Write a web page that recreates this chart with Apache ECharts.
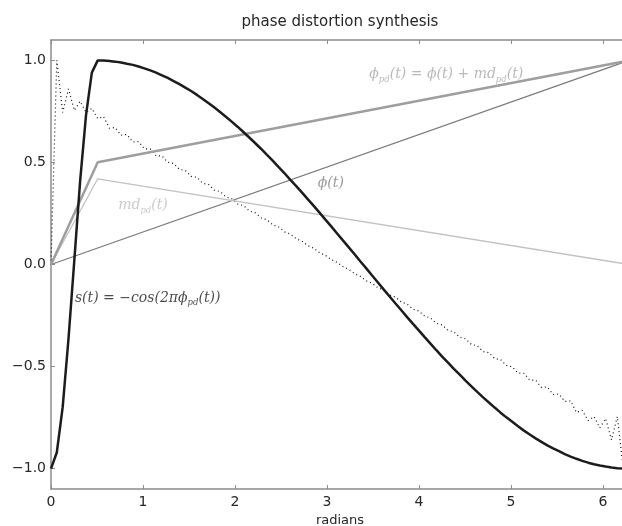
<!DOCTYPE html>
<html>
<head>
<meta charset="utf-8">
<script src="https://cdn.jsdelivr.net/npm/echarts@6/dist/echarts.min.js"></script>
<style>html,body{margin:0;padding:0;background:#fff;overflow:hidden}#c{width:630px;height:526px}</style>
</head>
<body>
<div id="c"></div>
<script>
// sample times (radians)
const tSamples = [0,0.063,0.127,0.190,0.254,0.317,0.381,0.444,0.508,0.571,0.635,0.698,0.762,0.825,0.889,0.952,1.015,1.079,1.142,1.206,1.269,1.333,1.396,1.460,1.523,1.587,1.650,1.714,1.777,1.841,1.904,1.967,2.031,2.094,2.158,2.221,2.285,2.348,2.412,2.475,2.539,2.602,2.666,2.729,2.793,2.856,2.919,2.983,3.046,3.110,3.173,3.237,3.300,3.364,3.427,3.491,3.554,3.618,3.681,3.745,3.808,3.871,3.935,3.998,4.062,4.125,4.189,4.252,4.316,4.379,4.443,4.506,4.570,4.633,4.697,4.760,4.823,4.887,4.950,5.014,5.077,5.141,5.204,5.268,5.331,5.395,5.458,5.522,5.585,5.649,5.712,5.775,5.839,5.902,5.966,6.029,6.093,6.156,6.220,6.283];
// s(t) = -cos(2*pi*phi_pd(t))
const sValues = [-1,-0.921,-0.699,-0.365,0.024,0.411,0.733,0.940,1.000,0.999,0.997,0.994,0.990,0.984,0.978,0.970,0.961,0.951,0.940,0.927,0.914,0.899,0.884,0.867,0.850,0.831,0.811,0.790,0.769,0.746,0.723,0.699,0.674,0.648,0.621,0.594,0.566,0.537,0.508,0.477,0.447,0.415,0.384,0.352,0.319,0.287,0.254,0.220,0.187,0.152,0.118,0.084,0.050,0.015,-0.019,-0.054,-0.088,-0.123,-0.157,-0.191,-0.224,-0.258,-0.291,-0.323,-0.356,-0.388,-0.420,-0.451,-0.481,-0.511,-0.540,-0.569,-0.597,-0.624,-0.651,-0.676,-0.701,-0.726,-0.749,-0.771,-0.793,-0.814,-0.833,-0.852,-0.869,-0.886,-0.901,-0.915,-0.929,-0.941,-0.952,-0.962,-0.971,-0.979,-0.985,-0.990,-0.995,-0.998,-0.999,-1.000];
// dotted band-limited sawtooth
const sawValues = [0,1.00,0.745,0.86,0.755,0.80,0.745,0.765,0.715,0.725,0.668,0.671,0.634,0.637,0.600,0.602,0.567,0.566,0.533,0.532,0.501,0.495,0.466,0.461,0.432,0.427,0.398,0.392,0.364,0.357,0.330,0.322,0.296,0.288,0.262,0.253,0.228,0.219,0.194,0.184,0.160,0.149,0.126,0.114,0.092,0.080,0.058,0.045,0.024,0.010,-0.010,-0.024,-0.045,-0.058,-0.080,-0.092,-0.114,-0.126,-0.149,-0.160,-0.184,-0.194,-0.219,-0.228,-0.253,-0.262,-0.288,-0.296,-0.322,-0.330,-0.357,-0.364,-0.392,-0.398,-0.427,-0.432,-0.461,-0.466,-0.495,-0.501,-0.532,-0.533,-0.566,-0.567,-0.602,-0.600,-0.637,-0.634,-0.671,-0.668,-0.725,-0.715,-0.765,-0.745,-0.80,-0.755,-0.86,-0.745,-1.00,0];
// phi(t)
const phiX = [0, 6.283];
const phiY = [0, 1];
// md_pd(t)
const mdX = [0, 0.508, 6.283];
const mdY = [0, 0.420, 0];
// phi_pd(t)
const phiPdX = [0, 0.508, 6.283];
const phiPdY = [0, 0.501, 1];
// tick labels
const xTicks = [0, 1, 2, 3, 4, 5, 6];
const yTicks = [-1, -0.5, 0, 0.5, 1];

const zip = (xs, ys) => xs.map((x, i) => [x, ys[i]]);

const serifI = {fontFamily: 'DejaVu Serif', fontStyle: 'italic', fontSize: 14, lineHeight: 19};
const subS = {fontFamily: 'DejaVu Serif', fontStyle: 'italic', fontSize: 8.5, lineHeight: 9, verticalAlign: 'bottom'};
function richFor(color) {
  return {
    i: Object.assign({}, serifI, {color}),
    s: Object.assign({}, subS, {color})
  };
}
function annot(pos, text, color) {
  return {
    type: 'scatter', symbolSize: 0, silent: true, z: 10,
    itemStyle: {color: 'transparent'},
    data: [pos],
    label: {show: true, position: 'right', distance: 0, formatter: text, rich: richFor(color)}
  };
}

const axisGray = '#8c8c8c';
const chart = echarts.init(document.getElementById('c'), null, {renderer: 'canvas'});
chart.setOption({
  animation: false,
  backgroundColor: '#fff',
  title: {
    text: 'phase distortion synthesis',
    left: 340, top: 15, padding: 0, textAlign: 'center',
    textStyle: {fontFamily: 'DejaVu Sans', fontSize: 15, fontWeight: 'normal', color: '#262626'}
  },
  grid: {left: 51, top: 40, right: 1, bottom: 37, containLabel: false, outerBoundsMode: 'none'},
  xAxis: [{
    type: 'value', min: 0, max: 6.283, position: 'bottom',
    name: 'radians', nameLocation: 'middle', nameGap: 17,
    nameTextStyle: {fontFamily: 'DejaVu Sans', fontSize: 13, color: '#262626'},
    axisLine: {show: true, onZero: false, lineStyle: {color: axisGray, width: 1.5}},
    axisTick: {show: true, inside: true, length: 4, customValues: xTicks, lineStyle: {color: axisGray}},
    axisLabel: {show: true, customValues: xTicks, margin: 6, fontFamily: 'DejaVu Sans', fontSize: 14, color: '#262626', formatter: v => String(v)},
    splitLine: {show: false}
  }, {
    type: 'value', min: 0, max: 6.283, position: 'top',
    axisLine: {show: true, onZero: false, lineStyle: {color: axisGray, width: 1.5}},
    axisTick: {show: true, inside: true, length: 4, customValues: xTicks, lineStyle: {color: axisGray}},
    axisLabel: {show: false},
    splitLine: {show: false}
  }],
  yAxis: [{
    type: 'value', min: -1.1, max: 1.1,
    axisLine: {show: true, onZero: false, lineStyle: {color: axisGray, width: 1.5}},
    axisTick: {show: true, inside: true, length: 4, customValues: yTicks, lineStyle: {color: axisGray}},
    axisLabel: {show: true, customValues: yTicks, margin: 5, fontFamily: 'DejaVu Sans', fontSize: 14, color: '#262626',
      formatter: v => (v < 0 ? '\u2212' : '') + Math.abs(v).toFixed(1)},
    splitLine: {show: false}
  }],
  series: [
    {type: 'line', name: 'saw', data: zip(tSamples, sawValues), showSymbol: false, clip: true,
      lineStyle: {color: '#111', width: 1.2, type: [1, 3]}, z: 2},
    {type: 'line', name: 'phi', data: zip(phiX, phiY), showSymbol: false, clip: true,
      lineStyle: {color: '#7a7a7a', width: 1.2}, z: 3},
    {type: 'line', name: 'md', data: zip(mdX, mdY), showSymbol: false, clip: true,
      lineStyle: {color: '#c2c2c2', width: 1.3}, z: 3},
    {type: 'line', name: 'phipd', data: zip(phiPdX, phiPdY), showSymbol: false, clip: true,
      lineStyle: {color: '#9e9e9e', width: 2.5}, z: 4},
    {type: 'line', name: 's', data: zip(tSamples, sValues), showSymbol: false, clip: true,
      lineStyle: {color: '#1c1c1c', width: 2.5}, z: 5},
    annot([3.46, 0.93], '{i|ϕ}{s|pd}{i|(t) = ϕ(t) + md}{s|pd}{i|(t)}', '#a8a8a8'),
    annot([2.90, 0.40], '{i|ϕ(t)}', '#808080'),
    annot([0.73, 0.29], '{i|md}{s|pd}{i|(t)}', '#bdbdbd'),
    annot([0.26, -0.165], '{i|s(t) = \u2212cos(2πϕ}{s|pd}{i|(t))}', '#1c1c1c')
  ]
});
</script>
</body>
</html>
